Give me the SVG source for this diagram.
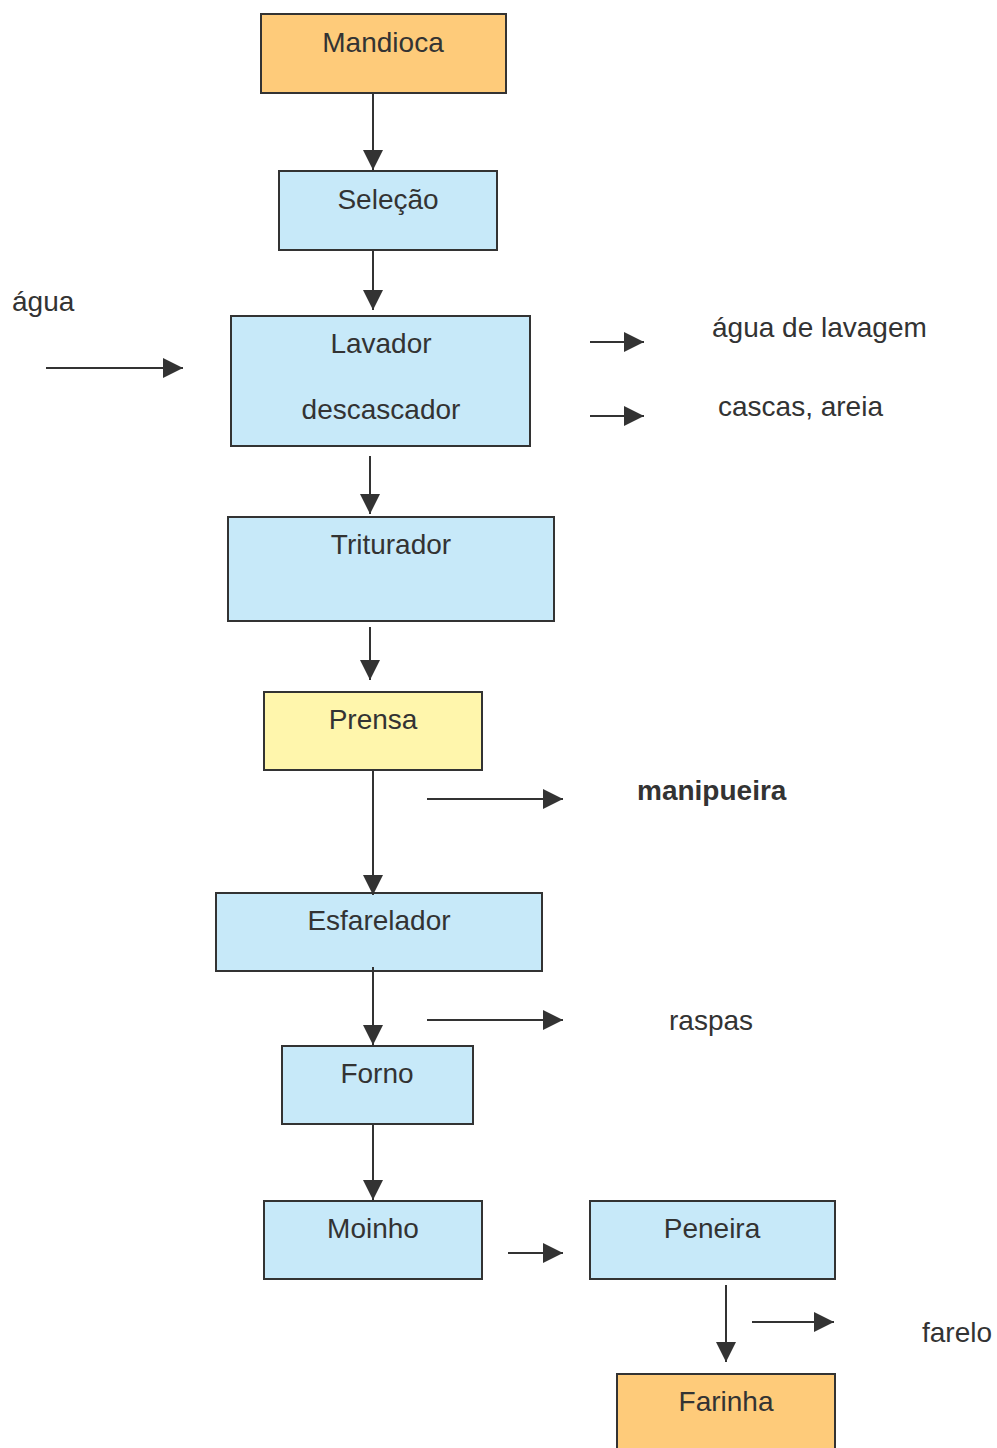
<svg xmlns="http://www.w3.org/2000/svg" width="997" height="1448" viewBox="0 0 997 1448">
<style>
.box{stroke:#333333;stroke-width:2}
.o{fill:#FECB7A}
.b{fill:#C7E9F9}
.y{fill:#FFF6AC}
text{font-family:"Liberation Sans",Arial,sans-serif;font-size:28px;fill:#333333}
.c{text-anchor:middle}
.bold{font-weight:bold}
.con line{stroke:#333333;stroke-width:2;marker-end:url(#ah)}
</style>
<defs>
<marker id="ah" markerUnits="userSpaceOnUse" markerWidth="20" markerHeight="20" refX="20" refY="10" orient="auto" viewBox="0 0 20 20">
<path d="M0,0 L20,10 L0,20 z" fill="#333333"/>
</marker>
</defs>
<rect width="997" height="1448" fill="#ffffff"/>
<g id="mandioca"><rect class="box o" x="261" y="14" width="245" height="79"/><text class="c" x="383" y="52">Mandioca</text></g>
<g id="selecao"><rect class="box b" x="279" y="171" width="218" height="79"/><text class="c" x="388" y="209">Seleção</text></g>
<g id="lavador"><rect class="box b" x="231" y="316" width="299" height="130"/><text class="c" x="381" y="353">Lavador</text><text class="c" x="381" y="419">descascador</text></g>
<g id="triturador"><rect class="box b" x="228" y="517" width="326" height="104"/><text class="c" x="391" y="554">Triturador</text></g>
<g id="prensa"><rect class="box y" x="264" y="692" width="218" height="78"/><text class="c" x="373" y="729">Prensa</text></g>
<g id="esfarelador"><rect class="box b" x="216" y="893" width="326" height="78"/><text class="c" x="379" y="930">Esfarelador</text></g>
<g id="forno"><rect class="box b" x="282" y="1046" width="191" height="78"/><text class="c" x="377" y="1083">Forno</text></g>
<g id="moinho"><rect class="box b" x="264" y="1201" width="218" height="78"/><text class="c" x="373" y="1238">Moinho</text></g>
<g id="peneira"><rect class="box b" x="590" y="1201" width="245" height="78"/><text class="c" x="712" y="1238">Peneira</text></g>
<g id="farinha"><rect class="box o" x="617" y="1374" width="218" height="90"/><text class="c" x="726" y="1411">Farinha</text></g>
<g id="agua"><text x="12" y="311">água</text></g>
<g id="agua-lavagem"><text x="712" y="337">água de lavagem</text></g>
<g id="cascas"><text x="718" y="416">cascas, areia</text></g>
<g id="manipueira"><text class="bold" x="637" y="800">manipueira</text></g>
<g id="raspas"><text x="669" y="1030">raspas</text></g>
<g id="farelo"><text x="922" y="1342">farelo</text></g>
<g id="connectors" class="con">
<line x1="373" y1="93" x2="373" y2="170"/>
<line x1="373" y1="250" x2="373" y2="310"/>
<line x1="46" y1="368" x2="183" y2="368"/>
<line x1="590" y1="342" x2="644" y2="342"/>
<line x1="590" y1="416" x2="644" y2="416"/>
<line x1="370" y1="456" x2="370" y2="514"/>
<line x1="370" y1="627" x2="370" y2="680"/>
<line x1="373" y1="770" x2="373" y2="895"/>
<line x1="427" y1="799" x2="563" y2="799"/>
<line x1="373" y1="967" x2="373" y2="1045"/>
<line x1="427" y1="1020" x2="563" y2="1020"/>
<line x1="373" y1="1124" x2="373" y2="1200"/>
<line x1="508" y1="1253" x2="563" y2="1253"/>
<line x1="726" y1="1285" x2="726" y2="1362"/>
<line x1="752" y1="1322" x2="834" y2="1322"/>
</g>
</svg>
